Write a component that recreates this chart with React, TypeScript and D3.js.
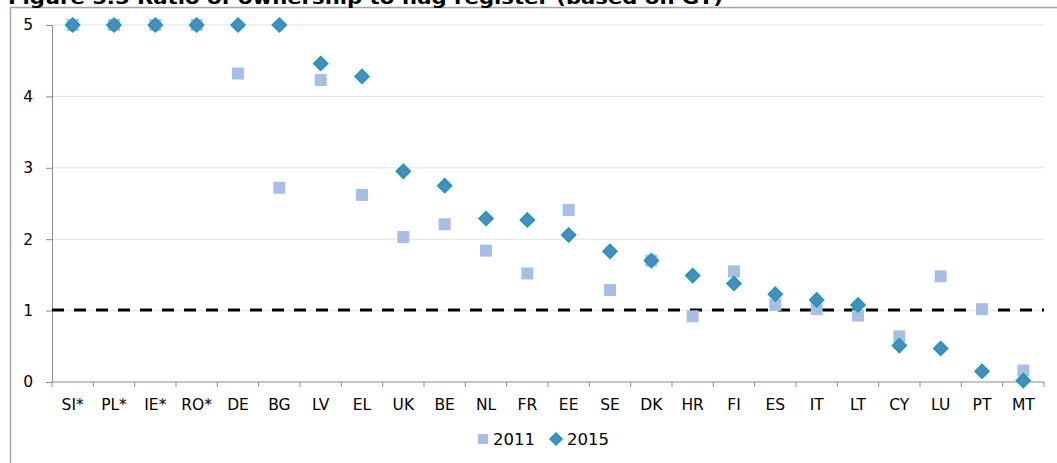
import React, { useEffect, useRef } from "react";
import * as d3 from "d3";

const countries = ["SI*", "PL*", "IE*", "RO*", "DE", "BG", "LV", "EL", "UK", "BE", "NL", "FR", "EE", "SE", "DK", "HR", "FI", "ES", "IT", "LT", "CY", "LU", "PT", "MT"];
const values2011 = [5, 5, 5, 5, 4.32, 2.72, 4.23, 2.62, 2.03, 2.21, 1.84, 1.52, 2.41, 1.29, 1.7, 0.92, 1.55, 1.08, 1.02, 0.93, 0.64, 1.48, 1.02, 0.16];
const values2015 = [5, 5, 5, 5, 5, 5, 4.46, 4.28, 2.95, 2.75, 2.29, 2.27, 2.06, 1.83, 1.7, 1.49, 1.38, 1.23, 1.15, 1.08, 0.51, 0.47, 0.15, 0.02];
const yTicks = [0, 1, 2, 3, 4, 5];
const threshold = 1.01;
const legendLabels = ["2011", "2015"];
const title = "Figure 5.5 Ratio of ownership to flag register (based on GT)";

export default function App() {
  const ref = useRef<SVGSVGElement>(null);

  useEffect(() => {
    const node = ref.current;
    if (!node) return;
    const w = 1057;
    const h = 463;
    const m = { t: 25, r: 13, b: 81, l: 52 };
    const font = "'DejaVu Sans', Verdana, sans-serif";

    const svg = d3.select(node);
    svg.selectAll("*").remove();

    svg.append("rect").attr("width", w).attr("height", h).attr("fill", "#fff");

    // outer chart frame (right/bottom run off the picture)
    svg.append("rect")
      .attr("x", 10.5).attr("y", 7.5)
      .attr("width", w + 20).attr("height", h + 20)
      .attr("fill", "none").attr("stroke", "#a6a6a6").attr("stroke-width", 1.5);

    // title, cut off at the top as in the source
    svg.append("text")
      .attr("x", 8).attr("y", 4)
      .attr("font-family", font).attr("font-weight", "bold").attr("font-size", 17)
      .attr("textLength", 715).attr("lengthAdjust", "spacingAndGlyphs")
      .attr("fill", "#000")
      .text(title);

    const x = d3.scaleBand().domain(countries).range([m.l, w - m.r]);
    const y = d3.scaleLinear().domain([0, 5]).range([h - m.b, m.t]);

    // gridlines
    svg.append("g")
      .selectAll("line")
      .data(yTicks.filter(d => d > 0))
      .enter().append("line")
      .attr("x1", m.l).attr("x2", w - m.r)
      .attr("y1", d => y(d)).attr("y2", d => y(d))
      .attr("stroke", "#e3e3e3").attr("stroke-width", 1);

    // y axis
    const yAxis = svg.append("g")
      .attr("transform", `translate(${m.l},0)`)
      .call(d3.axisLeft(y).tickValues(yTicks).tickFormat(d3.format("d")).tickSize(6).tickPadding(13));
    yAxis.select(".domain").attr("stroke", "#8c8c8c");
    yAxis.selectAll(".tick line").attr("stroke", "#8c8c8c");
    yAxis.selectAll("text").attr("font-family", font).attr("font-size", 15.5).attr("fill", "#000");

    // x axis with ticks at band boundaries
    const xg = svg.append("g").attr("transform", `translate(0,${h - m.b})`);
    xg.append("line").attr("x1", m.l).attr("x2", w - m.r).attr("stroke", "#8c8c8c");
    const bounds = countries.map(c => x(c) as number).concat([w - m.r]);
    xg.selectAll("line.tk")
      .data(bounds)
      .enter().append("line")
      .attr("class", "tk")
      .attr("x1", d => d).attr("x2", d => d)
      .attr("y1", 0).attr("y2", 5)
      .attr("stroke", "#8c8c8c");
    xg.selectAll("text")
      .data(countries)
      .enter().append("text")
      .attr("x", d => (x(d) as number) + x.bandwidth() / 2)
      .attr("y", 28)
      .attr("text-anchor", "middle")
      .attr("font-family", font).attr("font-size", 15.5).attr("fill", "#000")
      .text(d => d);

    // dashed reference line
    svg.append("line")
      .attr("x1", m.l).attr("x2", w - m.r)
      .attr("y1", y(threshold)).attr("y2", y(threshold))
      .attr("stroke", "#000").attr("stroke-width", 3)
      .attr("stroke-dasharray", "12,10");

    const cx = (i: number) => (x(countries[i]) as number) + x.bandwidth() / 2;
    const sq = 12;
    const diamond = (s: number) => `M0,${-s}L${s},0L0,${s}L${-s},0Z`;

    // 2011 squares
    svg.append("g")
      .selectAll("rect")
      .data(values2011)
      .enter().append("rect")
      .attr("x", (d, i) => cx(i) - sq / 2)
      .attr("y", d => y(d) - sq / 2)
      .attr("width", sq).attr("height", sq)
      .attr("fill", "#a7bfe4");

    // 2015 diamonds
    svg.append("g")
      .selectAll("path")
      .data(values2015)
      .enter().append("path")
      .attr("transform", (d, i) => `translate(${cx(i)},${y(d)})`)
      .attr("d", diamond(7))
      .attr("fill", "#4a8ac8")
      .attr("stroke", "#12a0a0").attr("stroke-width", 1.5);

    // legend
    const lg = svg.append("g").attr("transform", "translate(0,439)");
    lg.append("rect").attr("x", 478).attr("y", -5).attr("width", 10).attr("height", 10).attr("fill", "#a7bfe4");
    lg.append("text").attr("x", 493).attr("y", 6)
      .attr("font-family", font).attr("font-size", 16.5).attr("fill", "#000").text(legendLabels[0]);
    lg.append("path").attr("transform", "translate(556,0)").attr("d", diamond(6))
      .attr("fill", "#4a8ac8").attr("stroke", "#12a0a0").attr("stroke-width", 1.5);
    lg.append("text").attr("x", 567).attr("y", 6)
      .attr("font-family", font).attr("font-size", 16.5).attr("fill", "#000").text(legendLabels[1]);
  }, []);

  return <svg ref={ref} width={1057} height={463} style={{ position: "absolute", left: 0, top: 0 }} />;
}
